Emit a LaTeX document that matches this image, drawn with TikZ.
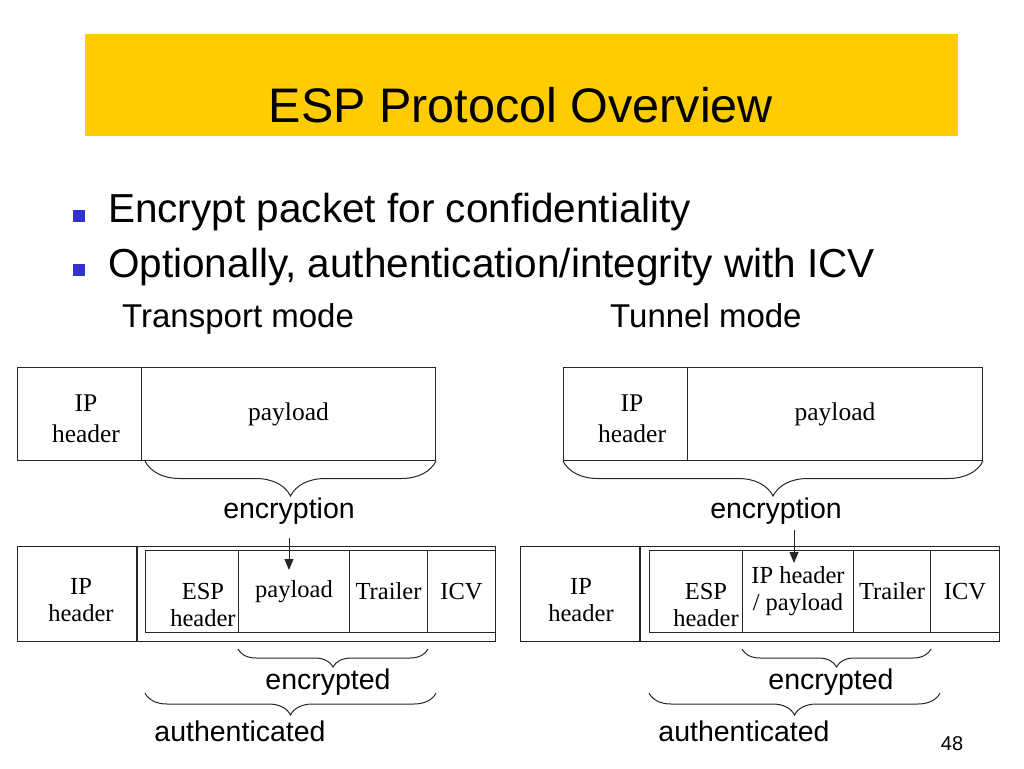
\documentclass[tikz,border=0pt]{standalone}
\usepackage{fontspec}
\setmainfont{Liberation Serif}
\newfontfamily\slidefont{Liberation Sans}
\usetikzlibrary{decorations.pathreplacing,arrows.meta}
\definecolor{titleyellow}{RGB}{255,204,0}
\definecolor{bulletblue}{RGB}{51,51,204}
\newcommand\fsz[1]{\fontsize{#1}{#1}\selectfont}
\tikzstyle{cell}=[draw=black!85,line width=1pt,inner sep=0pt,anchor=north west,align=center,font=\fontsize{24.5}{27}\selectfont]
\tikzstyle{topcell}=[cell,font=\fontsize{25.5}{31}\selectfont]
\tikzstyle{txt}=[inner sep=0pt,align=center,font=\fontsize{24.5}{27}\selectfont]
\tikzstyle{toptxt}=[txt,font=\fontsize{25.5}{31}\selectfont]
\tikzstyle{sans}=[inner sep=0pt,anchor=base,font=\slidefont\fsz{28.5}]
\tikzstyle{bullet}=[fill=bulletblue,minimum size=12pt,inner sep=0pt]
\tikzstyle{arr}=[draw=black!85,line width=1pt,-{Triangle[length=11pt,width=9pt]}]
\tikzset{brc/.style={draw=black!85,line width=1pt,decorate,decoration={brace,mirror,amplitude=#1}}}

\begin{document}
\begin{tikzpicture}[x=1pt,y=-1pt]
    \useasboundingbox (0,0) rectangle (1024,768);
    % title and bullets
    \node[fill=titleyellow,minimum width=873pt,minimum height=102pt,anchor=north west] (title) at (85,34) {};
    \node[sans,font=\slidefont\fsz{48.5}] (titleTxt) at (521,122) {ESP Protocol Overview};
    \node[bullet] (b1) at (79,216) {};
    \node[bullet] (b2) at (79,270) {};
    \node[sans,anchor=base west,font=\slidefont\fsz{40.5}] (line1) at (108,222) {Encrypt packet for confidentiality};
    \node[sans,anchor=base west,font=\slidefont\fsz{40.5}] (line2) at (108,277) {Optionally, authentication/integrity with ICV};
    \node[sans,anchor=base west,font=\slidefont\fsz{33}] (modeT) at (122,327) {Transport mode};
    \node[sans,anchor=base west,font=\slidefont\fsz{33}] (modeU) at (610,327) {Tunnel mode};

    % transport mode
    \node[topcell,minimum width=124pt,minimum height=93pt] (tIP) at (17,367) {};
    \node[topcell,minimum width=294pt,minimum height=93pt] (tPay) at (141,367) {payload};
    \node[toptxt] (tIPtxt) at (86,419) {IP\\header};
    \draw[brc=35] ([xshift=4pt]tPay.south west) -- (tPay.south east);
    \node[sans] (encT) at (289,518) {encryption};

    \node[cell,minimum width=478pt,minimum height=95pt] (tOut) at (17,546) {};
    \draw[draw=black!85,line width=2pt] ([xshift=120pt]tOut.north west) -- ([xshift=120pt]tOut.south west);
    \node[txt] (tIPtxt2) at (81,600) {IP\\header};
    \node[cell,minimum width=93pt,minimum height=82pt] (tEsp) at (145,550) {};
    \node[txt] (tEspTxt) at (203,605) {ESP\\header};
    \node[cell,minimum width=111pt,minimum height=82pt] (tPay2) at (238,550) {payload};
    \node[cell,minimum width=78pt,minimum height=82pt] (tTrl) at (349,550) {Trailer};
    \node[cell,minimum width=68pt,minimum height=82pt] (tIcv) at (427,550) {ICV};
    \coordinate (aT) at (289,570);
    \draw[arr,shorten <=14pt] (aT |- encT.south) -- (aT);

    \draw[brc=18] ([yshift=-16pt]tPay2.south west) -- ([yshift=-16pt]tTrl.south east);
    \node[sans] (encrT) at (328,689) {encrypted};
    \draw[brc=22] ([yshift=-60pt]tEsp.south west) -- ([xshift=-60pt,yshift=-60pt]tIcv.south east);
    \node[sans] (authT) at (240,741) {authenticated};

    % tunnel mode
    \node[topcell,minimum width=124pt,minimum height=93pt] (uIP) at (563,367) {};
    \node[topcell,minimum width=295pt,minimum height=93pt] (uPay) at (687,367) {payload};
    \node[toptxt] (uIPtxt) at (632,419) {IP\\header};
    \draw[brc=35] (uIP.south west) -- (uPay.south east);
    \node[sans] (encU) at (776,518) {encryption};

    \node[cell,minimum width=479pt,minimum height=95pt] (uOut) at (520,546) {};
    \draw[draw=black!85,line width=2pt] ([xshift=120pt]uOut.north west) -- ([xshift=120pt]uOut.south west);
    \node[txt] (uIPtxt2) at (581,600) {IP\\header};
    \node[cell,minimum width=93pt,minimum height=82pt] (uEsp) at (649,550) {};
    \node[txt] (uEspTxt) at (706,605) {ESP\\header};
    \node[cell,minimum width=111pt,minimum height=82pt] (uPay2) at (742,550) {IP header\\/ payload};
    \node[cell,minimum width=77pt,minimum height=82pt] (uTrl) at (853,550) {Trailer};
    \node[cell,minimum width=69pt,minimum height=82pt] (uIcv) at (930,550) {ICV};
    \coordinate (aU) at (794,563);
    \draw[arr,shorten <=6pt] (aU |- encU.south) -- (aU);

    \draw[brc=18] ([yshift=-16pt]uPay2.south west) -- ([yshift=-16pt]uTrl.south east);
    \node[sans] (encrU) at (831,689) {encrypted};
    \draw[brc=22] ([yshift=-60pt]uEsp.south west) -- ([xshift=-60pt,yshift=-60pt]uIcv.south east);
    \node[sans] (authU) at (744,741) {authenticated};

    \node[sans,font=\slidefont\fsz{20}] (pageNo) at (952,750) {48};
\end{tikzpicture}
\end{document}
